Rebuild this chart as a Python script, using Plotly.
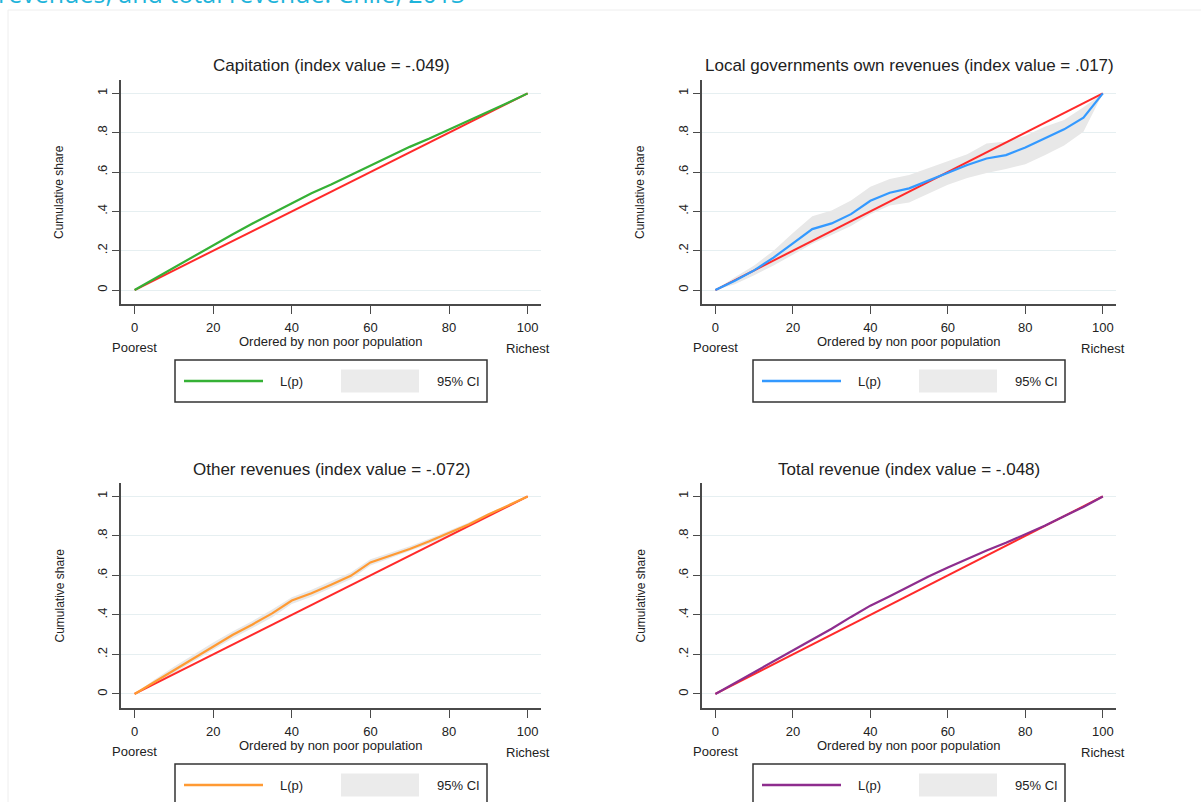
import plotly.graph_objects as go

W, H = 1201, 802

# ---------------- data ----------------
pop_pct = [0, 5, 10, 15, 20, 25, 30, 35, 40, 45, 50, 55, 60, 65, 70, 75, 80, 85, 90, 95, 100]
equality_x = [0, 100]
equality_y = [0, 1]

panel_titles = [
    "Capitation (index value = -.049)",
    "Local governments own revenues (index value = .017)",
    "Other revenues (index value = -.072)",
    "Total revenue (index value = -.048)",
]

capitation_lp = [0, 0.057, 0.115, 0.173, 0.229, 0.284, 0.338, 0.39, 0.44, 0.492, 0.537,
                 0.585, 0.634, 0.682, 0.728, 0.77, 0.815, 0.86, 0.905, 0.952, 1]
capitation_lo = [0, 0.053, 0.111, 0.169, 0.225, 0.28, 0.334, 0.386, 0.436, 0.488, 0.533,
                 0.581, 0.63, 0.678, 0.724, 0.766, 0.811, 0.856, 0.902, 0.95, 1]
capitation_hi = [0, 0.061, 0.119, 0.177, 0.233, 0.288, 0.342, 0.394, 0.444, 0.496, 0.541,
                 0.589, 0.638, 0.686, 0.732, 0.774, 0.819, 0.864, 0.908, 0.954, 1]

local_lp = [0, 0.047, 0.10, 0.165, 0.237, 0.31, 0.339, 0.386, 0.454, 0.495, 0.517,
            0.556, 0.598, 0.636, 0.669, 0.686, 0.725, 0.771, 0.817, 0.876, 1.0]
local_lo = [0, 0.03, 0.075, 0.125, 0.18, 0.235, 0.28, 0.325, 0.385, 0.43, 0.445,
            0.49, 0.535, 0.57, 0.595, 0.615, 0.64, 0.685, 0.735, 0.805, 1]
local_hi = [0, 0.065, 0.125, 0.2, 0.29, 0.375, 0.405, 0.455, 0.525, 0.565, 0.585,
            0.62, 0.655, 0.69, 0.745, 0.755, 0.785, 0.83, 0.865, 0.93, 1]

other_lp = [0, 0.06, 0.122, 0.183, 0.242, 0.30, 0.352, 0.408, 0.473, 0.51, 0.553,
            0.598, 0.666, 0.70, 0.734, 0.773, 0.815, 0.858, 0.908, 0.954, 1]
other_lo = [0, 0.048, 0.106, 0.166, 0.224, 0.282, 0.334, 0.388, 0.456, 0.492, 0.536,
            0.581, 0.65, 0.686, 0.72, 0.76, 0.804, 0.848, 0.9, 0.95, 1]
other_hi = [0, 0.072, 0.138, 0.2, 0.26, 0.318, 0.37, 0.428, 0.49, 0.528, 0.57,
            0.615, 0.682, 0.714, 0.748, 0.786, 0.826, 0.868, 0.915, 0.958, 1]

total_lp = [0, 0.055, 0.112, 0.168, 0.224, 0.279, 0.33, 0.39, 0.447, 0.495, 0.545,
            0.595, 0.64, 0.685, 0.726, 0.765, 0.808, 0.852, 0.9, 0.947, 1]
total_lo = [0, 0.051, 0.108, 0.164, 0.22, 0.275, 0.326, 0.386, 0.443, 0.491, 0.541,
            0.591, 0.636, 0.681, 0.722, 0.761, 0.804, 0.849, 0.897, 0.945, 1]
total_hi = [0, 0.059, 0.116, 0.172, 0.228, 0.283, 0.334, 0.394, 0.451, 0.499, 0.549,
            0.599, 0.644, 0.689, 0.73, 0.769, 0.812, 0.855, 0.903, 0.949, 1]

x_ticks = [0, 20, 40, 60, 80, 100]
y_ticks = [0, 0.2, 0.4, 0.6, 0.8, 1]
y_ticktext = ["0", ".2", ".4", ".6", ".8", "1"]

series_lp = [capitation_lp, local_lp, other_lp, total_lp]
series_lo = [capitation_lo, local_lo, other_lo, total_lo]
series_hi = [capitation_hi, local_hi, other_hi, total_hi]
line_colors = ["#35b135", "#3399ff", "#ff9a33", "#8e2d8e"]
diag_color = "#ff2a2a"
band_color = "#e8e8e8"

# ---------------- layout geometry (page pixels) ----------------
panel_boxes = [  # x0, x1, y_top, y_bottom
    (121, 541, 80, 304),
    (702, 1116, 80, 304),
    (121, 541, 483, 708),
    (702, 1116, 483, 708),
]
FONT = "Liberation Sans, Arial, sans-serif"
TXT = "#222222"
AX = "#4a4a4a"


def px(x):
    return x / W


def py(y):
    return 1 - y / H


fig = go.Figure()
shapes = []
annotations = []

for i in range(4):
    k = "" if i == 0 else str(i + 1)
    xa, ya = "x" + k, "y" + k
    x0, x1, yt, yb = panel_boxes[i]

    fig.add_trace(go.Scatter(x=pop_pct, y=series_lo[i], mode="lines", line=dict(width=0),
                             xaxis=xa, yaxis=ya, showlegend=False, hoverinfo="skip"))
    fig.add_trace(go.Scatter(x=pop_pct, y=series_hi[i], mode="lines", line=dict(width=0),
                             fill="tonexty", fillcolor=band_color,
                             xaxis=xa, yaxis=ya, showlegend=False, hoverinfo="skip"))
    fig.add_trace(go.Scatter(x=equality_x, y=equality_y, mode="lines",
                             line=dict(color=diag_color, width=2),
                             xaxis=xa, yaxis=ya, showlegend=False))
    fig.add_trace(go.Scatter(x=pop_pct, y=series_lp[i], mode="lines",
                             line=dict(color=line_colors[i], width=2.2),
                             xaxis=xa, yaxis=ya, showlegend=False, name="L(p)"))

    fig.update_layout(**{
        "xaxis" + k: dict(domain=[px(x0), px(x1)], range=[-3.46, 103.4], anchor=ya,
                          tickvals=x_ticks, showgrid=False, zeroline=False,
                          showline=True, linecolor=AX, linewidth=1.5,
                          ticks="outside", ticklen=8, tickwidth=1.2, tickcolor=AX,
                          tickfont=dict(family=FONT, size=13, color=TXT),
                          ticklabelstandoff=3),
        "yaxis" + k: dict(domain=[py(yb), py(yt)], range=[-0.071, 1.068], anchor=xa,
                          tickvals=y_ticks, ticktext=y_ticktext, tickangle=-90,
                          showgrid=True, gridcolor="#e6eff1", gridwidth=1, zeroline=False,
                          showline=True, linecolor=AX, linewidth=1.5,
                          ticks="outside", ticklen=7, tickwidth=1.2, tickcolor=AX,
                          tickfont=dict(family=FONT, size=13, color=TXT)),
    })

    xc = (x0 + x1) / 2
    annotations.append(dict(text=panel_titles[i], xref="paper", yref="paper",
                            x=px(xc), y=py(yt - 14), xanchor="center", yanchor="middle",
                            showarrow=False, font=dict(family=FONT, size=17, color=TXT)))
    annotations.append(dict(text="Cumulative share", xref="paper", yref="paper",
                            x=px(x0 - 62), y=py((yt + yb) / 2), textangle=-90,
                            xanchor="center", yanchor="middle", showarrow=False,
                            font=dict(family=FONT, size=12, color=TXT)))
    annotations.append(dict(text="Ordered by non poor population", xref="paper", yref="paper",
                            x=px(xc), y=py(yb + 37), xanchor="center", yanchor="middle",
                            showarrow=False, font=dict(family=FONT, size=13, color=TXT)))
    annotations.append(dict(text="Poorest", xref=xa, yref="paper", x=0, y=py(yb + 43),
                            xanchor="center", yanchor="middle", showarrow=False,
                            font=dict(family=FONT, size=13, color=TXT)))
    annotations.append(dict(text="Richest", xref=xa, yref="paper", x=100, y=py(yb + 44),
                            xanchor="center", yanchor="middle", showarrow=False,
                            font=dict(family=FONT, size=13, color=TXT)))

    # legend box
    lb_top = yb + 56
    lb_bot = lb_top + 42
    lb_x0 = xc - 156
    lb_x1 = xc + 156
    shapes.append(dict(type="rect", xref="paper", yref="paper",
                       x0=px(lb_x0), x1=px(lb_x1), y0=py(lb_bot), y1=py(lb_top),
                       line=dict(color="#333333", width=1.5), fillcolor="white", layer="above"))
    ly = lb_top + 21
    shapes.append(dict(type="line", xref="paper", yref="paper",
                       x0=px(lb_x0 + 9), x1=px(lb_x0 + 88), y0=py(ly), y1=py(ly),
                       line=dict(color=line_colors[i], width=2.5), layer="above"))
    shapes.append(dict(type="rect", xref="paper", yref="paper",
                       x0=px(lb_x0 + 166), x1=px(lb_x0 + 244), y0=py(ly + 11.5), y1=py(ly - 11.5),
                       line=dict(width=0), fillcolor="#ebebeb", layer="above"))
    annotations.append(dict(text="L(p)", xref="paper", yref="paper",
                            x=px(lb_x0 + 116), y=py(ly), xanchor="center", yanchor="middle",
                            showarrow=False, font=dict(family=FONT, size=13, color=TXT)))
    annotations.append(dict(text="95% CI", xref="paper", yref="paper",
                            x=px(lb_x0 + 283), y=py(ly), xanchor="center", yanchor="middle",
                            showarrow=False, font=dict(family=FONT, size=13, color=TXT)))

# outer faint frame
shapes.append(dict(type="rect", xref="paper", yref="paper",
                   x0=px(8), x1=px(W + 20), y0=py(H + 20), y1=py(10),
                   line=dict(color="#eeeeee", width=1), layer="below"))

# heading at the very top (cut off by the page edge, as in the source image)
annotations.append(dict(text="revenues, and total revenue: Chile, 2013", xref="paper", yref="paper",
                        x=px(-4), y=py(12), xanchor="left", yanchor="bottom", showarrow=False,
                        font=dict(family="Open Sans, sans-serif", size=25, color="#1fb4da")))

fig.update_layout(width=W, height=H, margin=dict(l=0, r=0, t=0, b=0),
                  paper_bgcolor="white", plot_bgcolor="white",
                  shapes=shapes, annotations=annotations, showlegend=False)

fig.write_html("out.html", config={"displayModeBar": False},
               post_script="document.body.style.margin='0';document.body.style.overflow='hidden';")
